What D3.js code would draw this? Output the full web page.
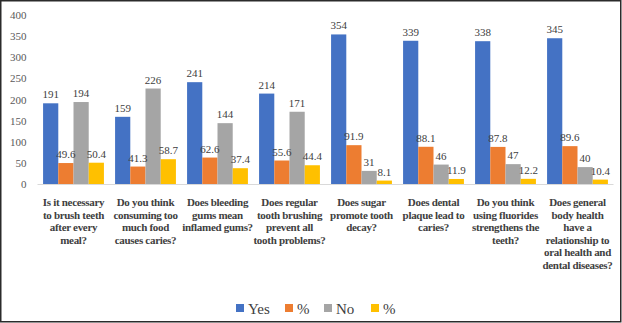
<!DOCTYPE html>
<html>
<head>
<meta charset="utf-8">
<script src="https://cdn.jsdelivr.net/npm/d3@7"></script>
<style>
  html, body { margin: 0; padding: 0; background: #fff; }
  svg { display: block; }
</style>
</head>
<body>
<svg id="chart" width="622" height="323"></svg>
<script>
const SERIF = "'Liberation Serif', serif";

// Survey questions (one group of bars each), split into display lines
const questions = [
  ["Is it necessary", "to brush teeth", "after every", "meal?"],
  ["Do you think", "consuming too", "much food", "causes caries?"],
  ["Does bleeding", "gums mean", "inflamed gums?"],
  ["Does regular", "tooth brushing", "prevent all", "tooth problems?"],
  ["Does sugar", "promote tooth", "decay?"],
  ["Does dental", "plaque lead to", "caries?"],
  ["Do you think", "using fluorides", "strengthens the", "teeth?"],
  ["Does general", "body health", "have a", "relationship to", "oral health and", "dental diseases?"]
];

// Series values per question
const yesCount = [191, 159, 241, 214, 354, 339, 338, 345];
const yesPct   = [49.6, 41.3, 62.6, 55.6, 91.9, 88.1, 87.8, 89.6];
const noCount  = [194, 226, 144, 171, 31, 46, 47, 40];
const noPct    = [50.4, 58.7, 37.4, 44.4, 8.1, 11.9, 12.2, 10.4];

const seriesNames  = ["Yes", "%", "No", "%"];
const seriesColors = ["#4472C4", "#ED7D31", "#A5A5A5", "#FFC000"];
const seriesData   = [yesCount, yesPct, noCount, noPct];

const yTicks = [0, 50, 100, 150, 200, 250, 300, 350, 400];

const svg = d3.select("#chart");
const W = 622, H = 323;

// outer frame
svg.append("rect")
  .attr("x", 0.75).attr("y", 0.75)
  .attr("width", W - 2).attr("height", H - 2)
  .attr("fill", "#fff").attr("stroke", "#2b2b2b").attr("stroke-width", 1.5);

const plot = { left: 37.5, right: 613.5, top: 15, bottom: 184 };

const x0 = d3.scaleBand()
  .domain(d3.range(questions.length))
  .range([plot.left, plot.right])
  .paddingInner(0.155)
  .paddingOuter(0.0775);

const x1 = d3.scaleBand()
  .domain(d3.range(seriesNames.length))
  .range([0, x0.bandwidth()]);

const y = d3.scaleLinear().domain([0, 400]).range([plot.bottom, plot.top]);

// y axis labels
const yAxis = d3.axisLeft(y).tickValues(yTicks).tickSize(0).tickPadding(9);
const yg = svg.append("g").attr("transform", `translate(${plot.left - 2},0)`).call(yAxis);
yg.select(".domain").remove();
yg.attr("font-family", null).attr("font-size", null);
yg.selectAll("text")
  .style("font-family", SERIF)
  .style("font-size", "11px")
  .attr("fill", "#595959");

// bars
const groups = svg.append("g").selectAll("g")
  .data(questions)
  .join("g")
  .attr("transform", (d, i) => `translate(${x0(i)},0)`);

groups.selectAll("rect")
  .data((d, i) => seriesData.map((s, k) => ({ k, v: s[i] })))
  .join("rect")
  .attr("x", d => x1(d.k))
  .attr("y", d => y(d.v))
  .attr("width", x1.bandwidth())
  .attr("height", d => y(0) - y(d.v))
  .attr("fill", d => seriesColors[d.k]);

// value labels
groups.selectAll("text.val")
  .data((d, i) => seriesData.map((s, k) => ({ k, v: s[i] })))
  .join("text")
  .attr("class", "val")
  .attr("x", d => x1(d.k) + x1.bandwidth() / 2)
  .attr("y", d => y(d.v) - 5)
  .attr("text-anchor", "middle")
  .style("font-family", SERIF)
  .style("font-size", "11px")
  .attr("fill", "#404040")
  .text(d => d.v);

// x axis line
svg.append("line")
  .attr("x1", plot.left).attr("x2", plot.right)
  .attr("y1", plot.bottom + 0.5).attr("y2", plot.bottom + 0.5)
  .attr("stroke", "#d9d9d9").attr("stroke-width", 1);

// category labels
const cat = svg.append("g").selectAll("text")
  .data(questions)
  .join("text")
  .attr("x", (d, i) => x0(i) + x0.bandwidth() / 2)
  .attr("y", 206)
  .attr("text-anchor", "middle")
  .style("font-family", SERIF)
  .style("font-size", "11px")
  .style("font-weight", "bold")
  .style("letter-spacing", "-0.3px")
  .attr("fill", "#404040");
cat.selectAll("tspan")
  .data(d => d)
  .join("tspan")
  .attr("x", function () { return d3.select(this.parentNode).attr("x"); })
  .attr("dy", (d, i) => i === 0 ? 0 : 12.6)
  .text(d => d);

// legend
const legendX = [236, 285, 324, 371];
const legend = svg.append("g").selectAll("g")
  .data(seriesNames)
  .join("g")
  .attr("transform", (d, i) => `translate(${legendX[i]},304)`);
legend.append("rect")
  .attr("width", 8).attr("height", 8)
  .attr("fill", (d, i) => seriesColors[i]);
legend.append("text")
  .attr("x", 12).attr("y", 9.5)
  .style("font-family", SERIF)
  .style("font-size", "15px")
  .attr("fill", "#404040")
  .text(d => d);
</script>
</body>
</html>
